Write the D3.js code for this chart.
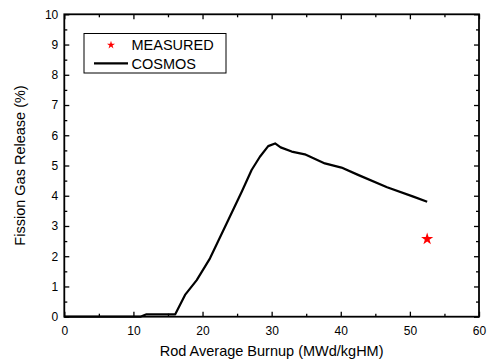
<!DOCTYPE html>
<html>
<head>
<meta charset="utf-8">
<script src="https://cdn.jsdelivr.net/npm/d3@7"></script>
<style>
  body { margin: 0; background: #fff; }
  svg { font-family: "Liberation Sans", Arial, sans-serif; }
</style>
</head>
<body>
<div id="chart"></div>
<script>
// COSMOS calculation (rod average burnup, fission gas release %)
const cosmosBurnup = [0, 11.0, 11.9, 16.05, 17.47, 19.16, 21.08, 23.5, 25.67, 27.1, 28.3, 29.5, 30.5, 31.3, 32.9, 34.8, 37.7, 40.1, 42.5, 46.7, 50.5, 52.5];
const cosmosFgr = [0, 0, 0.08, 0.08, 0.72, 1.21, 1.93, 3.09, 4.13, 4.85, 5.29, 5.64, 5.73, 5.6, 5.46, 5.37, 5.07, 4.93, 4.69, 4.28, 3.97, 3.80];

// measured point
const measuredBurnup = [52.5];
const measuredFgr = [2.57];

const xTicks = [0, 10, 20, 30, 40, 50, 60];
const yTicks = [0, 1, 2, 3, 4, 5, 6, 7, 8, 9, 10];

const width = 487;
const height = 362;
const margin = { top: 14.3, right: 8, bottom: 45.3, left: 64.3 };
const w = width - margin.left - margin.right;
const h = height - margin.top - margin.bottom;

const svg = d3.select("#chart")
    .append("svg")
    .attr("width", width)
    .attr("height", height);

const g = svg.append("g")
    .attr("transform", `translate(${margin.left}, ${margin.top})`);

const x = d3.scaleLinear().domain([0, 60]).range([0, w]);
const y = d3.scaleLinear().domain([0, 10]).range([h, 0]);

const xMinor = d3.range(5, 60, 10);
const yMinor = d3.range(0.5, 10, 1);

function tickStyle(sel) {
    sel.select(".domain").remove();
    sel.selectAll(".tick line").attr("stroke", "#000").attr("stroke-width", 1.3);
}

// bottom axis with labels
g.append("g")
    .attr("transform", `translate(0, ${h})`)
    .call(d3.axisBottom(x).tickValues(xTicks).tickSize(-5).tickPadding(10).tickFormat(d3.format("d")))
    .call(tickStyle)
    .call(s => s.selectAll("text").attr("font-size", 12).attr("fill", "#000").attr("font-family", "Liberation Sans, Arial"));

g.append("g")
    .attr("transform", `translate(0, ${h})`)
    .call(d3.axisBottom(x).tickValues(xMinor).tickSize(-3).tickFormat(""))
    .call(tickStyle);

// top axis (ticks only)
g.append("g")
    .call(d3.axisTop(x).tickValues(xTicks).tickSize(-5).tickFormat(""))
    .call(tickStyle);
g.append("g")
    .call(d3.axisTop(x).tickValues(xMinor).tickSize(-3).tickFormat(""))
    .call(tickStyle);

// left axis with labels
g.append("g")
    .call(d3.axisLeft(y).tickValues(yTicks).tickSize(-5).tickPadding(6).tickFormat(d3.format("d")))
    .call(tickStyle)
    .call(s => s.selectAll("text").attr("font-size", 12).attr("fill", "#000").attr("font-family", "Liberation Sans, Arial"));
g.append("g")
    .call(d3.axisLeft(y).tickValues(yMinor).tickSize(-3).tickFormat(""))
    .call(tickStyle);

// right axis (ticks only)
g.append("g")
    .attr("transform", `translate(${w}, 0)`)
    .call(d3.axisRight(y).tickValues(yTicks).tickSize(-5).tickFormat(""))
    .call(tickStyle);
g.append("g")
    .attr("transform", `translate(${w}, 0)`)
    .call(d3.axisRight(y).tickValues(yMinor).tickSize(-3).tickFormat(""))
    .call(tickStyle);

// frame
g.append("rect")
    .attr("width", w)
    .attr("height", h)
    .attr("fill", "none")
    .attr("stroke", "#000")
    .attr("stroke-width", 1.8);

// COSMOS line
const cosmos = cosmosBurnup.map((b, i) => ({ b: b, f: cosmosFgr[i] }));
const line = d3.line()
    .x(d => x(d.b))
    .y(d => y(d.f));

g.append("path")
    .datum(cosmos)
    .attr("d", line)
    .attr("fill", "none")
    .attr("stroke", "#000")
    .attr("stroke-width", 2.2)
    .attr("stroke-linejoin", "round");

// measured star
const measured = measuredBurnup.map((b, i) => ({ b: b, f: measuredFgr[i] }));
const star = d3.symbol().type(d3.symbolStar);
g.selectAll(".measured")
    .data(measured)
    .enter()
    .append("path")
    .attr("class", "measured")
    .attr("transform", d => `translate(${x(d.b)}, ${y(d.f)})`)
    .attr("d", star.size(46)())
    .attr("fill", "#ff0000");

// legend
const legend = svg.append("g");
legend.append("rect")
    .attr("x", 84)
    .attr("y", 33.5)
    .attr("width", 142)
    .attr("height", 39.5)
    .attr("fill", "#fff")
    .attr("stroke", "#000")
    .attr("stroke-width", 1);
legend.append("path")
    .attr("transform", "translate(111, 45)")
    .attr("d", d3.symbol().type(d3.symbolStar).size(20)())
    .attr("fill", "#ff0000");
legend.append("text")
    .attr("x", 131.5)
    .attr("y", 50)
    .attr("font-size", 14.5)
    .text("MEASURED");
legend.append("line")
    .attr("x1", 94)
    .attr("x2", 128)
    .attr("y1", 63.3)
    .attr("y2", 63.3)
    .attr("stroke", "#000")
    .attr("stroke-width", 2.2);
legend.append("text")
    .attr("x", 131.5)
    .attr("y", 69)
    .attr("font-size", 14.5)
    .text("COSMOS");

// axis titles
svg.append("text")
    .attr("x", margin.left + w / 2)
    .attr("y", 356)
    .attr("text-anchor", "middle")
    .attr("font-size", 14.5)
    .text("Rod Average Burnup (MWd/kgHM)");

svg.append("text")
    .attr("transform", `translate(25, ${margin.top + h / 2}) rotate(-90)`)
    .attr("text-anchor", "middle")
    .attr("font-size", 14.5)
    .text("Fission Gas Release (%)");
</script>
</body>
</html>
